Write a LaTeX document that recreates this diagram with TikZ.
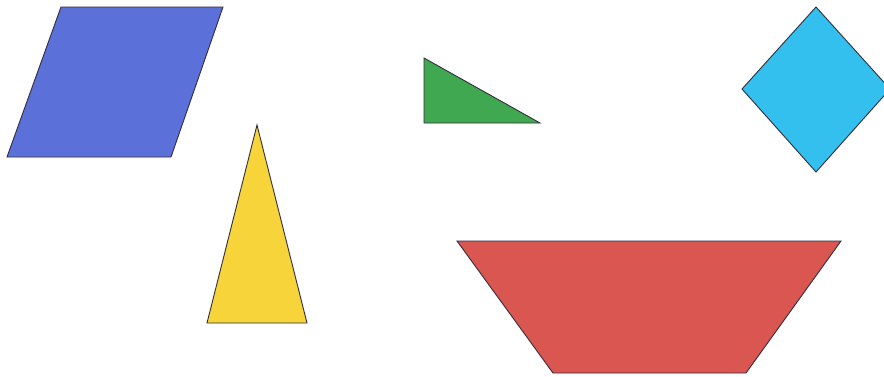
\documentclass[tikz,border=0pt]{standalone}
\definecolor{pblue}{RGB}{92,112,218}
\definecolor{pgreen}{RGB}{64,168,80}
\definecolor{pcyan}{RGB}{52,192,238}
\definecolor{pyellow}{RGB}{246,212,58}
\definecolor{pred}{RGB}{218,86,80}
\definecolor{pedge}{RGB}{50,45,60}
\tikzset{piece/.style={draw=pedge, line width=0.9pt, line join=miter}}
\begin{document}
\begin{tikzpicture}[x=1pt,y=-1pt]
\useasboundingbox (0,0) rectangle (884,376);
\clip (0,0) rectangle (884,376);
\fill[white] (0,0) rectangle (884,376);
% blue parallelogram
\filldraw[piece, fill=pblue] (61,7) -- (223,7) -- (171,157) -- (7,157) -- cycle;
% yellow triangle
\filldraw[piece, fill=pyellow] (257,125) -- (307,323) -- (207,323) -- cycle;
% green right triangle
\filldraw[piece, fill=pgreen] (424,58) -- (540,123) -- (424,123) -- cycle;
% cyan diamond
\filldraw[piece, fill=pcyan] (816,7) -- (890,89) -- (816,172) -- (742,89) -- cycle;
% red trapezoid
\filldraw[piece, fill=pred] (457,241) -- (841,241) -- (746,373) -- (553,373) -- cycle;
\end{tikzpicture}
\end{document}
